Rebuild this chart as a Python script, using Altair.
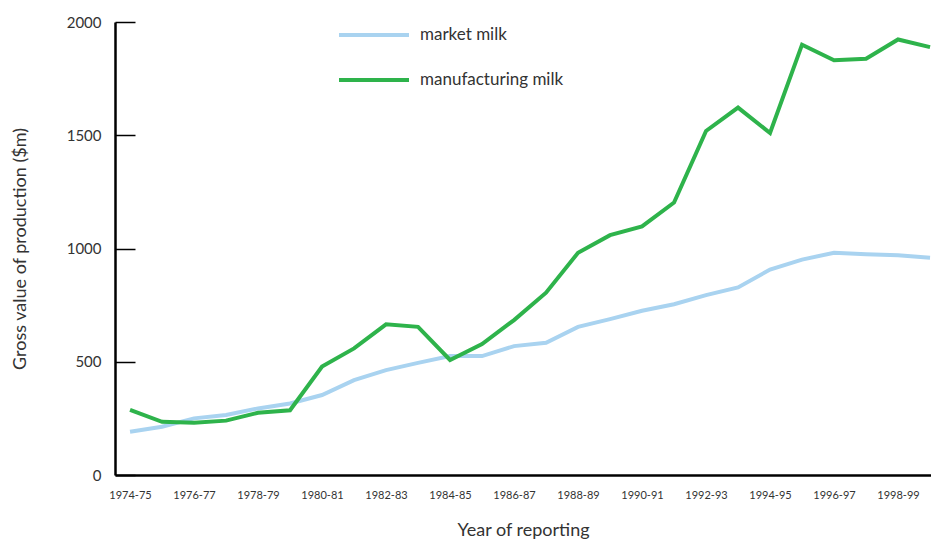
import altair as alt
import pandas as pd

years = ["1974-75", "1975-76", "1976-77", "1977-78", "1978-79", "1979-80", "1980-81",
         "1981-82", "1982-83", "1983-84", "1984-85", "1985-86", "1986-87", "1987-88",
         "1988-89", "1989-90", "1990-91", "1991-92", "1992-93", "1993-94", "1994-95",
         "1995-96", "1996-97", "1997-98", "1998-99", "1999-00"]
market_milk = [191, 213, 250, 265, 294, 316, 353, 419, 463, 495, 525, 525, 569,
               584, 654, 688, 725, 754, 794, 828, 907, 951, 981, 975, 970, 959]
manufacturing_milk = [287, 235, 231, 240, 275, 286, 479, 559, 665, 654, 508, 578, 684,
                      805, 981, 1059, 1098, 1203, 1519, 1622, 1510, 1900, 1831, 1838, 1923, 1889]
series_names = ["market milk", "manufacturing milk"]
series_colors = ["#a9d3f0", "#2eb34b"]
y_ticks = [0, 500, 1000, 1500, 2000]
x_label_years = years[::2]

rows = []
for i, y in enumerate(years):
    rows.append({"year": y, "series": series_names[0], "value": market_milk[i]})
    rows.append({"year": y, "series": series_names[1], "value": manufacturing_milk[i]})
df = pd.DataFrame(rows)

FONT = "Lato"
TXT = "#333333"

x_enc = alt.X("year:O", sort=years,
              scale=alt.Scale(type="point", padding=0.25, align=0.94),
              axis=alt.Axis(title="Year of reporting", values=x_label_years, labelAngle=0,
                            ticks=False, grid=False, labelPadding=14, labelFontSize=11,
                            labelFont=FONT, labelColor=TXT, titleFont=FONT,
                            titleFontSize=18, titleFontWeight="normal", titleColor=TXT,
                            titleBaseline="alphabetic", titleY=60,
                            domainColor="black", domainWidth=2.5))
y_scale = alt.Scale(domain=[0, 2000], nice=False)

lines = alt.Chart(df).mark_line(strokeWidth=4, strokeJoin="miter").encode(
    x=x_enc,
    y=alt.Y("value:Q", scale=y_scale,
            axis=alt.Axis(title="Gross value of production ($m)", values=y_ticks,
                          format="d", ticks=False, grid=False, labelPadding=14,
                          labelFontSize=15, labelFont=FONT, labelColor=TXT,
                          titleFont=FONT, titleFontSize=18, titleFontWeight="normal",
                          titleColor=TXT, titleX=-90, titleBaseline="alphabetic",
                          domainColor="black", domainWidth=2.5)),
    color=alt.Color("series:N", sort=series_names,
                    scale=alt.Scale(domain=series_names, range=series_colors),
                    legend=alt.Legend(title=None, orient="none", legendX=222, legendY=-24,
                                      symbolType="stroke", symbolSize=4900,
                                      symbolStrokeWidth=4, labelFont=FONT,
                                      labelFontSize=17, labelColor=TXT, labelOffset=9,
                                      rowPadding=-24)),
)

# inward-pointing tick marks on the value axis
inner_ticks = alt.Chart(df).mark_line(opacity=0).encode(
    x=x_enc,
    y=alt.Y("value:Q", scale=y_scale,
            axis=alt.Axis(title=None, orient="left", offset=-20, values=y_ticks,
                          labels=False, domain=False, grid=False, tickSize=20,
                          tickWidth=1.5, tickColor="black")),
    detail="series:N",
)

chart = alt.layer(lines, inner_ticks).resolve_axis(y="independent").properties(
    width=816, height=453,
    background="white",
    autosize=alt.AutoSizeParams(type="none"),
    padding={"left": 107, "top": 14, "right": 0, "bottom": 66},
).configure_view(stroke=None).configure_axis(grid=False)

chart.save("out.html", embed_options={"renderer": "svg", "actions": False})
